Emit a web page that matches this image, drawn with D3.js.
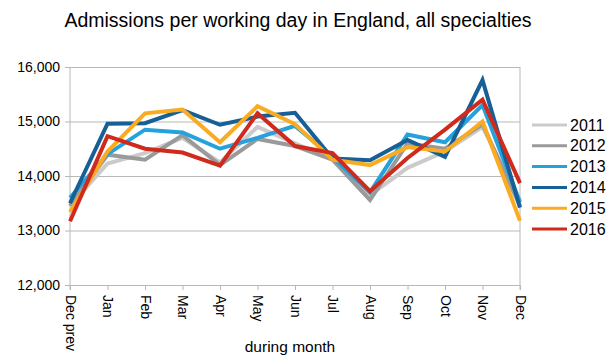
<!DOCTYPE html>
<html>
<head>
<meta charset="UTF-8">
<script src="https://d3js.org/d3.v7.min.js"></script>
<style>
  body { margin: 0; background: #fff; }
  text { font-family: "Liberation Sans", Arial, sans-serif; fill: #000; }
</style>
</head>
<body>
<svg id="chart" width="608" height="364"></svg>
<script>
// Data
var months = ["Dec prev", "Jan", "Feb", "Mar", "Apr", "May", "Jun", "Jul", "Aug", "Sep", "Oct", "Nov", "Dec"];
var years = ["2011", "2012", "2013", "2014", "2015", "2016"];
var colours = ["#cbcbcb", "#9a9a9a", "#25a2dc", "#165f97", "#fbab22", "#cf2a1c"];
var yTicks = [12000, 13000, 14000, 15000, 16000];

var v2011 = [13450, 14230, 14420, 14700, 14250, 14900, 14600, 14300, 13650, 14150, 14450, 14900, 13550];
var v2012 = [13450, 14390, 14300, 14750, 14200, 14680, 14550, 14300, 13560, 14600, 14500, 14950, 13450];
var v2013 = [13600, 14400, 14850, 14800, 14500, 14700, 14920, 14350, 13700, 14760, 14620, 15300, 13520];
var v2014 = [13500, 14960, 14970, 15210, 14940, 15090, 15160, 14320, 14290, 14660, 14350, 15760, 13420];
var v2015 = [13340, 14450, 15150, 15220, 14620, 15280, 14950, 14300, 14200, 14530, 14450, 15000, 13180];
var v2016 = [13170, 14730, 14500, 14430, 14190, 15150, 14550, 14420, 13720, 14330, 14850, 15400, 13870];
var series = [v2011, v2012, v2013, v2014, v2015, v2016];

var svg = d3.select("#chart");
var plotLeft = 70, plotRight = 520, plotTop = 67, plotBottom = 285;
var grey = "#b8b8b8";

var x = d3.scalePoint().domain(months).range([plotLeft, plotRight]);
var y = d3.scaleLinear().domain([12000, 16000]).range([plotBottom, plotTop]);

// Title
svg.append("text")
    .attr("x", 298).attr("y", 27)
    .attr("text-anchor", "middle")
    .attr("font-size", "19.5px")
    .text("Admissions per working day in England, all specialties");

// Gridlines and y axis
var yAxis = d3.axisLeft(y).tickValues(yTicks).tickSize(plotRight - plotLeft + 5)
    .tickFormat(d3.format(","));
svg.append("g")
    .attr("transform", "translate(" + plotRight + ",0)")
    .call(yAxis)
    .call(function(g) {
        g.select(".domain").remove();
        g.selectAll("line").attr("stroke", grey);
        g.selectAll("text").attr("x", -(plotRight - plotLeft) - 10)
            .attr("font-size", "14px").attr("font-family", "Liberation Sans, Arial, sans-serif");
    });

// Left and right frame lines
svg.append("line").attr("x1", plotLeft).attr("x2", plotLeft).attr("y1", plotTop).attr("y2", plotBottom + 5)
    .attr("stroke", grey);
svg.append("line").attr("x1", plotRight).attr("x2", plotRight).attr("y1", plotTop).attr("y2", plotBottom + 5)
    .attr("stroke", grey);

// X axis
var xAxis = d3.axisBottom(x).tickSize(5).tickSizeOuter(0);
svg.append("g")
    .attr("transform", "translate(0," + plotBottom + ")")
    .call(xAxis)
    .call(function(g) {
        g.select(".domain").attr("stroke", grey);
        g.selectAll("line").attr("stroke", grey);
        g.selectAll("text")
            .attr("font-size", "14px")
            .attr("font-family", "Liberation Sans, Arial, sans-serif")
            .attr("text-anchor", "start")
            .attr("dy", "0.35em")
            .attr("transform", "rotate(90)")
            .attr("x", 10).attr("y", 0);
    });

svg.append("text")
    .attr("x", 290).attr("y", 352)
    .attr("text-anchor", "middle")
    .attr("font-size", "15.5px")
    .text("during  month");

// Lines
var line = d3.line()
    .x(function(d, i) { return x(months[i]); })
    .y(function(d) { return y(d); });

svg.append("g").selectAll("path")
    .data(series).enter()
    .append("path")
    .attr("d", line)
    .attr("fill", "none")
    .attr("stroke", function(d, i) { return colours[i]; })
    .attr("stroke-width", 4)
    .attr("stroke-linejoin", "miter");

// Legend
var legend = svg.append("g").selectAll("g")
    .data(years).enter()
    .append("g")
    .attr("transform", function(d, i) { return "translate(532," + (125 + i * 20.8) + ")"; });
legend.append("line")
    .attr("x1", 0).attr("x2", 35)
    .attr("stroke", function(d, i) { return colours[i]; })
    .attr("stroke-width", 3);
legend.append("text")
    .attr("x", 38).attr("dy", "0.35em")
    .attr("font-size", "16px")
    .text(function(d) { return d; });
</script>
</body>
</html>
